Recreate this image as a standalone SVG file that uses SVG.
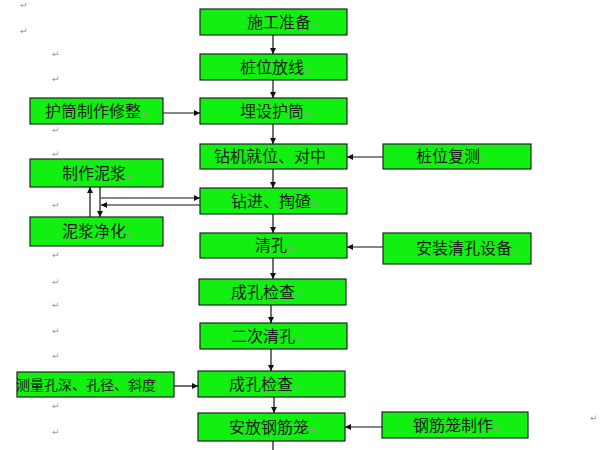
<svg xmlns="http://www.w3.org/2000/svg" width="600" height="450" viewBox="0 0 600 450">
<style>
.box{fill:#11F011;stroke:#222;stroke-width:1.2}
.t{font-family:"Noto Sans CJK SC","Noto Sans CJK JP",sans-serif;font-size:16px;fill:#1a1a1a}
.t2{font-size:14px}
.pm{font-family:"DejaVu Sans",sans-serif;font-size:9px;fill:#999}
.c{stroke:#111;stroke-width:1.2;fill:none;marker-end:url(#ah)}
.cn{stroke:#111;stroke-width:1.2;fill:none}
</style>
<defs>
<marker id="ah" viewBox="0 0 10 10" refX="10" refY="5" markerWidth="7" markerHeight="6" markerUnits="userSpaceOnUse" orient="auto">
<path d="M0,0 L10,5 L0,10 z" fill="#111"/>
</marker>
</defs>
<rect width="600" height="450" fill="#fff"/>
<g id="marks">
<text class="pm" x="20" y="8">↵</text>
<text class="pm" x="20" y="34">↵</text>
<text class="pm" x="52" y="57">↵</text>
<text class="pm" x="52" y="82">↵</text>
<text class="pm" x="52" y="133">↵</text>
<text class="pm" x="52" y="157">↵</text>
<text class="pm" x="52" y="208">↵</text>
<text class="pm" x="52" y="258">↵</text>
<text class="pm" x="52" y="285">↵</text>
<text class="pm" x="52" y="308">↵</text>
<text class="pm" x="52" y="334">↵</text>
<text class="pm" x="52" y="359">↵</text>
<text class="pm" x="52" y="409">↵</text>
<text class="pm" x="52" y="435">↵</text>
<text class="pm" x="590" y="421">↵</text>
</g>
<g id="n1"><rect class="box" x="200" y="9" width="147" height="26"/><text class="t" x="247" y="28">施工准备<tspan class="pm">↵</tspan></text></g>
<g id="n2"><rect class="box" x="200" y="54" width="147" height="26"/><text class="t" x="240" y="73">桩位放线<tspan class="pm">↵</tspan></text></g>
<g id="n3"><rect class="box" x="200" y="98" width="147" height="26"/><text class="t" x="240" y="117">埋设护筒<tspan class="pm">↵</tspan></text></g>
<g id="n4"><rect class="box" x="200" y="144" width="147" height="25"/><text class="t" x="214" y="162">钻机就位、对中<tspan class="pm">↵</tspan></text></g>
<g id="n5"><rect class="box" x="200" y="188" width="147" height="26"/><text class="t" x="231" y="207">钻进、掏碴<tspan class="pm">↵</tspan></text></g>
<g id="n6"><rect class="box" x="200" y="233" width="147" height="25"/><text class="t" x="255" y="251">清孔<tspan class="pm">↵</tspan></text></g>
<g id="n7"><rect class="box" x="199" y="279" width="147" height="26"/><text class="t" x="231" y="298">成孔检查<tspan class="pm">↵</tspan></text></g>
<g id="n8"><rect class="box" x="200" y="323" width="147" height="26"/><text class="t" x="231" y="342">二次清孔<tspan class="pm">↵</tspan></text></g>
<g id="n9"><rect class="box" x="198" y="371" width="147" height="26"/><text class="t" x="229" y="390">成孔检查<tspan class="pm">↵</tspan></text></g>
<g id="n10"><rect class="box" x="198" y="413" width="147" height="28"/><text class="t" x="229" y="433">安放钢筋笼<tspan class="pm">↵</tspan></text></g>
<g id="l1"><rect class="box" x="30" y="98" width="133" height="26"/><text class="t" x="45" y="117">护筒制作修整<tspan class="pm">↵</tspan></text></g>
<g id="l2"><rect class="box" x="30" y="159" width="133" height="28"/><text class="t" x="62" y="179">制作泥浆<tspan class="pm">↵</tspan></text></g>
<g id="l3"><rect class="box" x="30" y="217" width="133" height="29"/><text class="t" x="62" y="237">泥浆净化<tspan class="pm">↵</tspan></text></g>
<g id="l4"><rect class="box" x="17" y="372" width="157" height="25"/><text class="t t2" x="16" y="390">测量孔深、孔径、斜度<tspan class="pm">↵</tspan></text></g>
<g id="r1"><rect class="box" x="383" y="144" width="148" height="25"/><text class="t" x="416" y="162">桩位复测<tspan class="pm">↵</tspan></text></g>
<g id="r2"><rect class="box" x="383" y="233" width="148" height="31"/><text class="t" x="416" y="254">安装清孔设备<tspan class="pm">↵</tspan></text></g>
<g id="r3"><rect class="box" x="382" y="412" width="146" height="26"/><text class="t" x="413" y="431">钢筋笼制作<tspan class="pm">↵</tspan></text></g>
<g id="connectors">
<line class="c" x1="273" y1="35" x2="273" y2="54"/>
<line class="c" x1="273" y1="80" x2="273" y2="98"/>
<line class="c" x1="273" y1="124" x2="273" y2="144"/>
<line class="c" x1="273" y1="169" x2="273" y2="188"/>
<line class="c" x1="273" y1="214" x2="273" y2="233"/>
<line class="c" x1="273" y1="258" x2="273" y2="279"/>
<line class="c" x1="271" y1="305" x2="271" y2="323"/>
<line class="c" x1="271" y1="349" x2="271" y2="371"/>
<line class="c" x1="274" y1="397" x2="274" y2="413"/>
<line class="cn" x1="273" y1="441" x2="273" y2="450"/>
<line class="c" x1="163" y1="113" x2="200" y2="113"/>
<line class="c" x1="174" y1="386" x2="198" y2="386"/>
<line class="c" x1="383" y1="157" x2="347" y2="157"/>
<line class="c" x1="383" y1="247" x2="347" y2="247"/>
<line class="c" x1="382" y1="427" x2="345" y2="427"/>
<line class="c" x1="90" y1="217" x2="90" y2="187"/>
<line class="c" x1="100" y1="187" x2="100" y2="217"/>
<line class="c" x1="101" y1="198" x2="200" y2="198"/>
<line class="c" x1="200" y1="205" x2="101" y2="205"/>
</g>
</svg>
